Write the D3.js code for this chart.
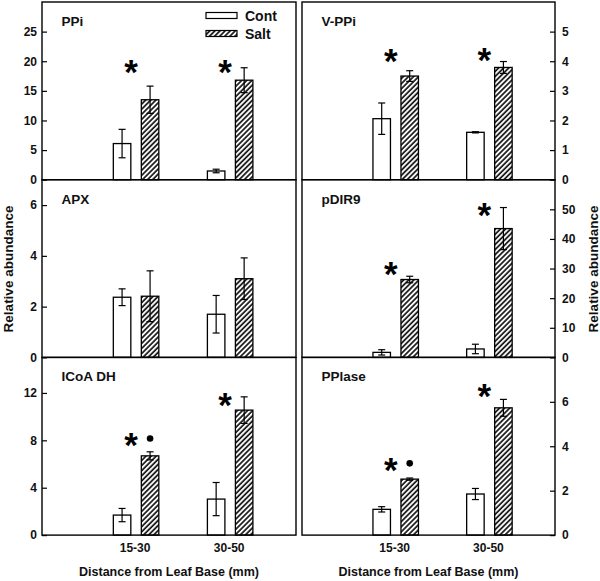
<!DOCTYPE html>
<html>
<head>
<meta charset="utf-8">
<script src="https://cdn.jsdelivr.net/npm/d3@7"></script>
<style>
  html, body { margin: 0; padding: 0; background: #fff; }
  svg { display: block; font-family: "Liberation Sans", Arial, sans-serif; }
</style>
</head>
<body>
<svg id="chart" width="600" height="581"></svg>
<script>
// ---------- data ----------
const categories = ["15-30", "30-50"];
const seriesNames = ["Cont", "Salt"];
const panelNames = ["PPi", "V-PPi", "APX", "pDIR9", "ICoA DH", "PPlase"];

const ppiCont = [6.1, 1.47], ppiContErr = [2.4, 0.3];
const ppiSalt = [13.5, 16.8], ppiSaltErr = [2.3, 2.1];
const ppiStar = [19.1, 19.1], ppiDot = [null, null];
const ppiTicks = [0, 5, 10, 15, 20, 25], ppiMax = 30;

const vppiCont = [2.06, 1.60], vppiContErr = [0.53, 0.02];
const vppiSalt = [3.50, 3.79], vppiSaltErr = [0.18, 0.20];
const vppiStar = [4.2, 4.23], vppiDot = [null, null];
const vppiTicks = [0, 1, 2, 3, 4, 5], vppiMax = 6;

const apxCont = [2.37, 1.70], apxContErr = [0.33, 0.74];
const apxSalt = [2.41, 3.10], apxSaltErr = [1.0, 0.82];
const apxStar = [null, null], apxDot = [null, null];
const apxTicks = [0, 2, 4, 6], apxMax = 7;

const pdirCont = [1.7, 2.85], pdirContErr = [0.9, 1.6];
const pdirSalt = [26.3, 43.5], pdirSaltErr = [1.1, 7.1];
const pdirStar = [30.0, 50.0], pdirDot = [null, null];
const pdirTicks = [0, 10, 20, 30, 40, 50], pdirMax = 60;

const icoaCont = [1.69, 3.04], icoaContErr = [0.56, 1.4];
const icoaSalt = [6.69, 10.55], icoaSaltErr = [0.34, 1.12];
const icoaStar = [8.07, 11.47], icoaDot = [8.15, null];
const icoaTicks = [0, 4, 8, 12], icoaMax = 15;

const pplCont = [1.16, 1.85], pplContErr = [0.12, 0.25];
const pplSalt = [2.52, 5.73], pplSaltErr = [0.05, 0.38];
const pplStar = [3.18, 6.53], pplDot = [3.23, null];
const pplTicks = [0, 2, 4, 6], pplMax = 8;

const xLabel = "Distance from Leaf Base (mm)";
const yLabel = "Relative abundance";

// ---------- layout ----------
const svg = d3.select("#chart");
const colX = [[42, 296], [302, 555]];
const top0 = 2, ph = 177.7;
const barW = 17.5, barOff = 14, capW = 7;

const panels = [
  {name: panelNames[0], col: 0, row: 0, max: ppiMax, ticks: ppiTicks, c: ppiCont, ce: ppiContErr, s: ppiSalt, se: ppiSaltErr, star: ppiStar, dot: ppiDot},
  {name: panelNames[1], col: 1, row: 0, max: vppiMax, ticks: vppiTicks, c: vppiCont, ce: vppiContErr, s: vppiSalt, se: vppiSaltErr, star: vppiStar, dot: vppiDot},
  {name: panelNames[2], col: 0, row: 1, max: apxMax, ticks: apxTicks, c: apxCont, ce: apxContErr, s: apxSalt, se: apxSaltErr, star: apxStar, dot: apxDot},
  {name: panelNames[3], col: 1, row: 1, max: pdirMax, ticks: pdirTicks, c: pdirCont, ce: pdirContErr, s: pdirSalt, se: pdirSaltErr, star: pdirStar, dot: pdirDot},
  {name: panelNames[4], col: 0, row: 2, max: icoaMax, ticks: icoaTicks, c: icoaCont, ce: icoaContErr, s: icoaSalt, se: icoaSaltErr, star: icoaStar, dot: icoaDot},
  {name: panelNames[5], col: 1, row: 2, max: pplMax, ticks: pplTicks, c: pplCont, ce: pplContErr, s: pplSalt, se: pplSaltErr, star: pplStar, dot: pplDot}
];

// hatch pattern
const defs = svg.append("defs");
const pat = defs.append("pattern")
  .attr("id", "hatch").attr("patternUnits", "userSpaceOnUse")
  .attr("width", 3.6).attr("height", 3.6)
  .attr("patternTransform", "rotate(45)");
pat.append("rect").attr("width", 3.6).attr("height", 3.6).attr("fill", "#fff");
pat.append("line").attr("x1", 1).attr("y1", 0).attr("x2", 1).attr("y2", 3.6)
  .attr("stroke", "#111").attr("stroke-width", 1.7);

panels.forEach(p => {
  const [x0, x1] = colX[p.col];
  const yTop = top0 + p.row * ph, yBot = yTop + ph;
  const x = d3.scaleLinear().domain([0, 2.7]).range([x0, x1]);
  const y = d3.scaleLinear().domain([0, p.max]).range([yBot, yTop]);
  const g = svg.append("g");

  // bars
  categories.forEach((cat, i) => {
    const cx = x(i + 1);
    const specs = [
      {v: p.c[i], e: p.ce[i], xc: cx - barOff, fill: "#fff"},
      {v: p.s[i], e: p.se[i], xc: cx + barOff, fill: "url(#hatch)"}
    ];
    specs.forEach(b => {
      g.append("rect")
        .attr("x", b.xc - barW / 2).attr("y", y(b.v))
        .attr("width", barW).attr("height", y(0) - y(b.v))
        .attr("fill", b.fill).attr("stroke", "#000").attr("stroke-width", 1.3);
      const lo = y(b.v - b.e), hi = y(b.v + b.e);
      g.append("line").attr("x1", b.xc).attr("x2", b.xc).attr("y1", lo).attr("y2", hi)
        .attr("stroke", "#000").attr("stroke-width", 1.2);
      [lo, hi].forEach(yy => g.append("line")
        .attr("x1", b.xc - capW / 2).attr("x2", b.xc + capW / 2)
        .attr("y1", yy).attr("y2", yy)
        .attr("stroke", "#000").attr("stroke-width", 1.2));
    });
    if (p.star[i] != null) {
      const fs = 35;
      g.append("text").text("*")
        .attr("x", cx - 5).attr("y", y(p.star[i]) + fs * 0.5)
        .attr("text-anchor", "middle").attr("font-size", fs).attr("font-weight", "bold");
    }
    if (p.dot[i] != null) {
      g.append("circle").attr("cx", cx + barOff).attr("cy", y(p.dot[i])).attr("r", 3.3).attr("fill", "#000");
    }
  });

  // frame
  g.append("rect").attr("x", x0).attr("y", yTop).attr("width", x1 - x0).attr("height", ph)
    .attr("fill", "none").attr("stroke", "#000").attr("stroke-width", 1.4);

  // axis
  const ax = (p.col === 0 ? d3.axisLeft(y) : d3.axisRight(y))
    .tickValues(p.ticks).tickSize(-5).tickPadding(p.col === 0 ? 5 : 7)
    .tickFormat(d3.format("d"));
  const axG = svg.append("g")
    .attr("transform", `translate(${p.col === 0 ? x0 : x1},0)`)
    .call(ax);
  axG.select(".domain").remove();
  axG.selectAll(".tick line").attr("stroke", "#000").attr("stroke-width", 1.2);
  axG.selectAll(".tick text").attr("font-size", 12).attr("font-weight", "bold")
    .attr("font-family", "Liberation Sans, Arial, sans-serif").attr("fill", "#111");

  // title
  svg.append("text").text(p.name)
    .attr("x", x0 + 19.5).attr("y", yTop + 24)
    .attr("font-size", 13.5).attr("font-weight", "bold").attr("fill", "#111");

  // category labels & x title in bottom row
  if (p.row === 2) {
    categories.forEach((cat, i) => {
      svg.append("text").text(cat)
        .attr("x", x(i + 1) - 1).attr("y", 551.5)
        .attr("text-anchor", "middle").attr("font-size", 12).attr("font-weight", "bold").attr("fill", "#111");
    });
    svg.append("text").text(xLabel)
      .attr("x", (x0 + x1) / 2).attr("y", 576)
      .attr("text-anchor", "middle").attr("font-size", 12.5).attr("font-weight", "bold").attr("fill", "#111");
  }
});

// y titles
svg.append("text").text(yLabel)
  .attr("transform", "translate(13,269) rotate(-90)")
  .attr("text-anchor", "middle").attr("font-size", 13.5).attr("font-weight", "bold").attr("fill", "#111");
svg.append("text").text(yLabel)
  .attr("transform", "translate(598,269) rotate(-90)")
  .attr("text-anchor", "middle").attr("font-size", 13.5).attr("font-weight", "bold").attr("fill", "#111");

// legend (top-left panel)
const legend = svg.append("g");
seriesNames.forEach((name, i) => {
  const ly = 15.5 + i * 18;
  legend.append("rect").attr("x", 206).attr("y", ly - 3).attr("width", 31).attr("height", 6)
    .attr("fill", i === 0 ? "#fff" : "url(#hatch)").attr("stroke", "#000").attr("stroke-width", 1.2);
  legend.append("text").text(name).attr("x", 245).attr("y", ly + 5)
    .attr("font-size", 14).attr("font-weight", "bold").attr("fill", "#111");
});
</script>
</body>
</html>
